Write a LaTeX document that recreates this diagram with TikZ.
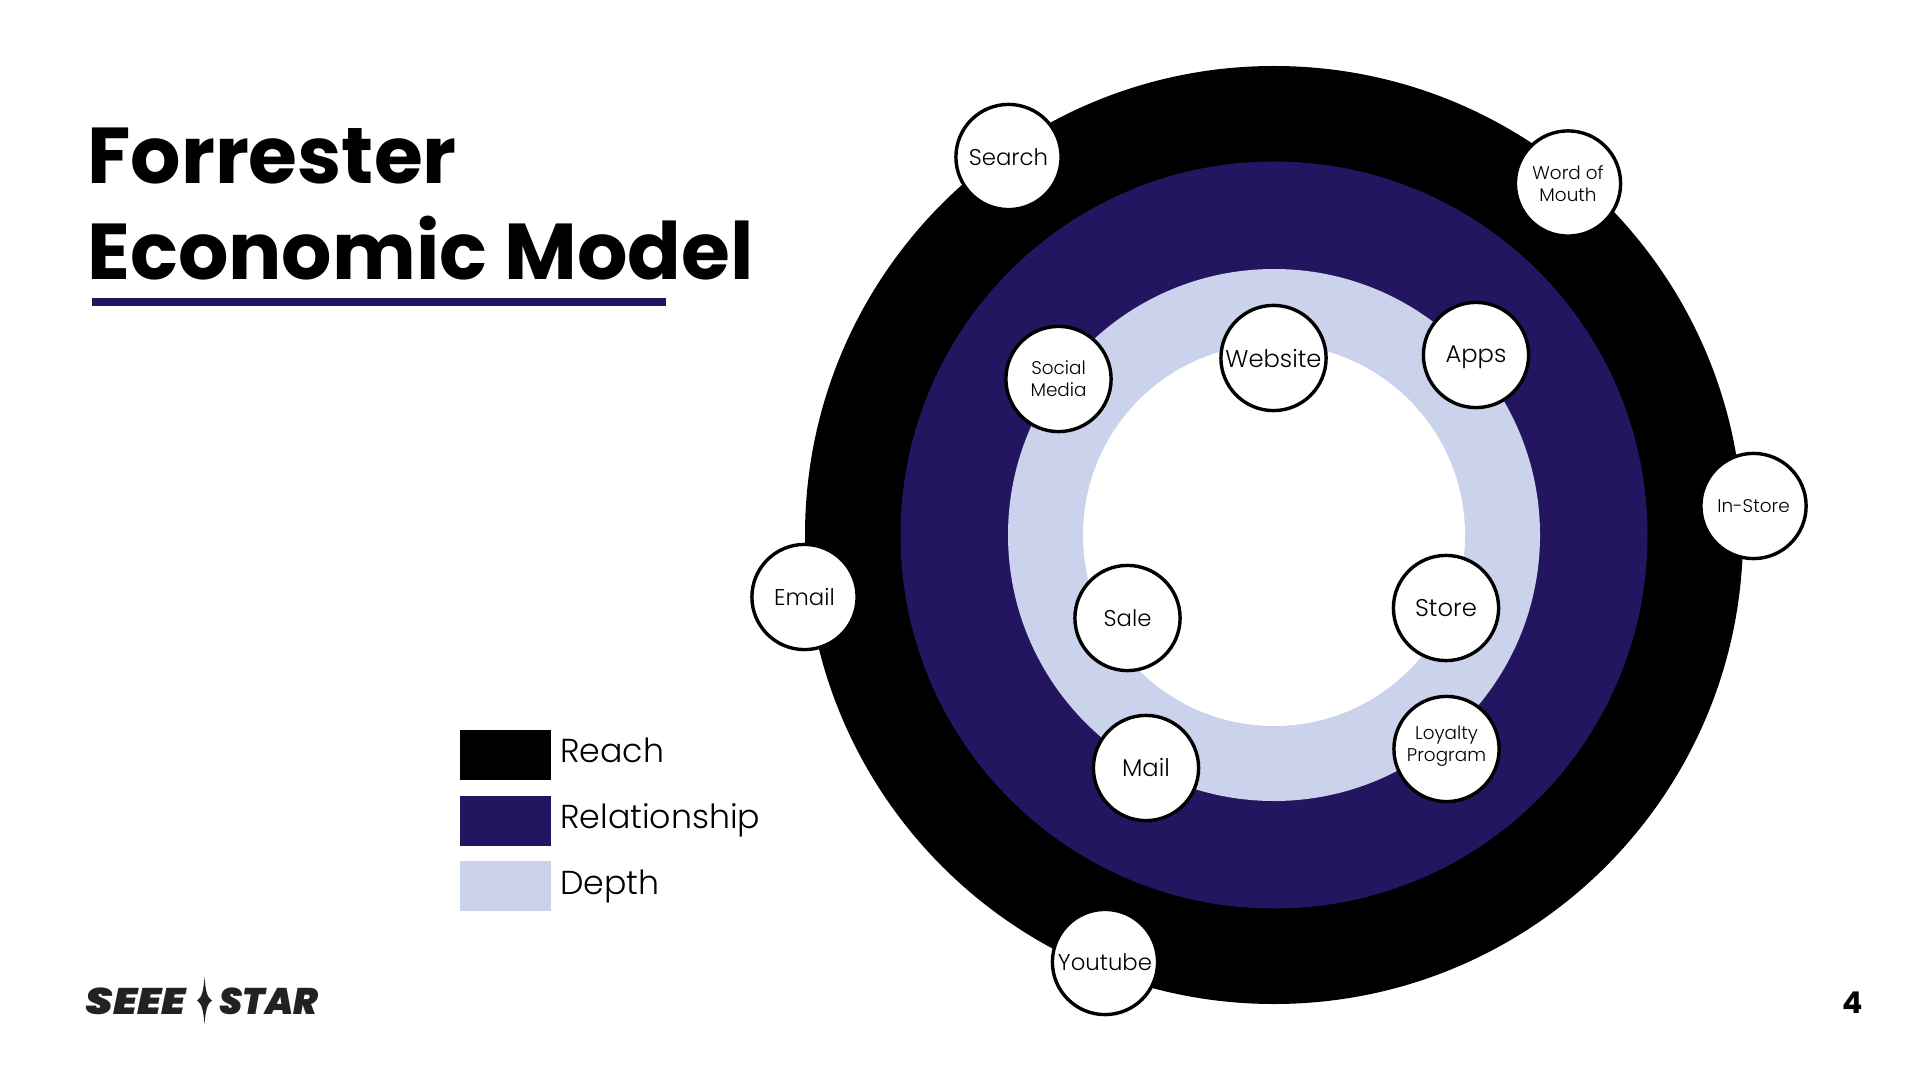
\documentclass[tikz,border=0pt]{standalone}
\usepackage{fontspec}
\setmainfont{Poppins}[UprightFont=* Light,BoldFont=* SemiBold]
\newfontfamily\logofont{Poppins}[UprightFont=* Black Italic]
\newfontfamily\headfont{Poppins}[UprightFont=* Bold]
\definecolor{navy}{HTML}{241560}
\definecolor{pale}{HTML}{CAD3EB}
\definecolor{inkgrey}{HTML}{222222}
\tikzset{
  ring/.style={circle,inner sep=0pt,outer sep=0pt},
  chan/.style={circle,draw=black,line width=1.7pt,fill=white,minimum size=52.6pt,inner sep=0pt,align=center,text=black},
  mid/.style={font=\fontsize{12.1}{14}\selectfont},
  midsmall/.style={font=\fontsize{11.4}{14}\selectfont},
  small/.style={font=\fontsize{9.2}{11.2}\selectfont},
  legendbox/.style={rectangle,inner sep=0pt,outer sep=0pt,minimum width=45.5pt,minimum height=25pt},
  legendtext/.style={anchor=west,inner sep=0pt,font=\fontsize{16.6}{20}\selectfont},
  titletext/.style={anchor=base west,inner sep=0pt,font=\fontsize{39.6}{48}\headfont},
  logotext/.style={anchor=base west,inner sep=0pt,text=inkgrey,font=\fontsize{18.5}{22}\logofont}
}
\begin{document}
\begin{tikzpicture}[x=0.5pt,y=-0.5pt]
\useasboundingbox (0,0) rectangle (1920,1080);
\fill[white] (0,0) rectangle (1920,1080);
% rings
\node[ring,fill=black,minimum size=469pt] (reach) at (1274,535) {};
\node[ring,fill=navy,minimum size=373.5pt] (relation) at (1274,535) {};
\node[ring,fill=pale,minimum size=266pt] (depth) at (1274,535) {};
\node[ring,fill=white,minimum size=191pt] (core) at (1274,535) {};
% title
\node[titletext] (t1) at (87,184) {Forrester};
\node[titletext] (t2) at (87,280) {Economic Model};
\fill[navy] (92,298) rectangle (666,306);
% legend
\node[legendbox,fill=black,anchor=north west] (l1) at (460,730) {};
\node[legendbox,fill=navy,anchor=north west] (l2) at (460,796) {};
\node[legendbox,fill=pale,anchor=north west] (l3) at (460,861) {};
\node[legendtext] (lt1) at (560,750) {Reach};
\node[legendtext] (lt2) at (560,820) {Relationship};
\node[legendtext] (lt3) at (560,886) {Depth};
% channels
\node[chan,midsmall] (search) at (1008.5,157) {Search};
\node[chan,small] (word) at (1568,183.5) {Word of\\[-0.3pt]Mouth};
\node[chan,small] (instore) at (1753.5,506) {In-Store};
\node[chan,midsmall] (email) at (804.5,597) {Email};
\node[chan,midsmall] (youtube) at (1105,962) {Youtube};
\node[chan,small] (social) at (1058.5,379) {Social\\[-0.3pt]Media};
\node[chan,mid] (website) at (1273.5,358) {Website};
\node[chan,mid] (apps) at (1476,355) {\raisebox{-1.2pt}[\height][\depth]{Apps}};
\node[chan,midsmall] (sale) at (1127.5,618) {Sale};
\node[chan,mid] (store) at (1446,608) {Store};
\node[chan,small] (loyalty) at (1446.5,749) {\raisebox{1.6pt}[\height][\depth]{Loyalty}\\[-0.3pt]\raisebox{1.6pt}[\height][\depth]{Program}};
\node[chan,mid] (mail) at (1146,768) {\raisebox{0.5pt}[\height][\depth]{Mail}};
% logo
\node[logotext] (seee) at (85,1014) {\scalebox{1.17}[1]{SEEE}};
\node[logotext] (star) at (219,1014) {\scalebox{0.985}[1]{STAR}};
\fill[inkgrey] (204.5,977) .. controls (205.5,990) and (207,998) .. (212,1000.5) .. controls (207,1003) and (205.5,1012) .. (204.5,1024) .. controls (203.5,1012) and (202,1003) .. (197,1000.5) .. controls (202,998) and (203.5,990) .. (204.5,977) -- cycle;
% page number
\node[anchor=base east,inner sep=0pt,font=\fontsize{15}{18}\headfont] (page) at (1863,1013) {4};
\end{tikzpicture}
\end{document}
